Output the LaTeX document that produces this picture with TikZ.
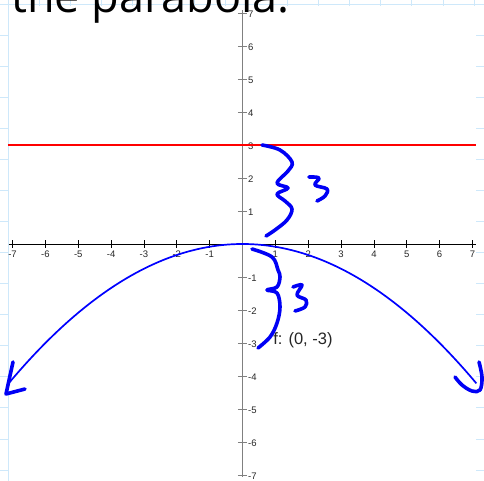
\documentclass[tikz,border=0pt]{standalone}
\usepackage{fontspec}
\setmainfont{Liberation Sans}
\newfontfamily\titlefont{Open Sans}
\usetikzlibrary{positioning}
\definecolor{paper}{RGB}{206,232,250}
\definecolor{ink}{RGB}{0,0,245}
\definecolor{ticktext}{RGB}{40,40,40}

\begin{document}
\begin{tikzpicture}[
      x=1pt, y=-1pt,
      pen/.style={ink, line width=3.6pt, line cap=round, line join=round},
      ticklbl/.style={font=\fontsize{9.5}{10}\selectfont, text=ticktext, inner sep=0.5pt},
      rule/.style={paper, line width=0.9pt}]
    \useasboundingbox (0,0) rectangle (484,481);
    \clip (0,0) rectangle (484,481);
    % notebook paper behind the plot
    \foreach \k in {0,...,15} \draw[rule] ({8+31.07*\k},0) -- ({8+31.07*\k},481);
    \foreach \k in {0,...,15} \draw[rule] (0,{4+31.07*\k}) -- (484,{4+31.07*\k});
    \fill[white] (8.5,6.5) rectangle (476,490);
    \node[anchor=base west, inner sep=0, font=\titlefont\fontsize{45}{45}\selectfont] (title) at (11,12.5) {the parabola:};
    % plot in axis units
    \begin{scope}[shift={(242.5,244)}, x=32.85pt, y=33pt]
      \draw[gray, line width=1.8pt] (0,7.09) -- (0,-7.07);
      \draw[black, line width=0.8pt] (-7.12,0) -- (7.1,0);
      \foreach \v in {-7,...,-1,1,2,...,7} {
        \draw[gray, line width=0.9pt] (-0.14,\v) -- (0.14,\v);
        \node[ticklbl, anchor=west] (yl\v) at (0.15,\v-0.03) {\v};
      }
      \foreach \u in {-7,...,-1,1,2,...,7} {
        \draw[black, line width=0.8pt] (\u,0.12) -- (\u,-0.12);
        \node[ticklbl, anchor=north] (xl\u) at (\u,-0.2) {\u};
      }
      \draw[red, line width=1.5pt] (-7.14,3) -- (7.11,3);
      \draw[blue, line width=1.7pt] plot[domain=-7.15:7.12, samples=80, smooth] (\x,{-\x*\x/12});
      \node[anchor=base west, inner sep=0, text=black!85, font=\fontsize{16.5}{17}\selectfont] (focus) at (0.93,-3.06) {f: (0, -3)};
    \end{scope}
    % hand-drawn arrowheads
    \draw[pen] (13,362) -- (6,394) -- (25,389);
    \draw[pen] plot[smooth, tension=0.6] coordinates {(455,377) (462,385) (472,391) (480,390) (482,377) (479,362)};
    % braces and distances
    \draw[pen] plot[smooth, tension=0.6] coordinates {(262,145) (280,150) (292,162) (288,171) (277,183) (288,188) (277,194) (285,201) (292,209) (287,220) (275,230) (266,236)};
    \draw[pen] plot[smooth, tension=0.6] coordinates {(309,177) (319,178) (315,185) (327,189) (325,196) (317,201)};
    \draw[pen] plot[smooth, tension=0.6] coordinates {(252,249) (272,257) (278,270) (280,277) (277,287) (267,290) (277,293) (280,307) (277,323) (270,337) (258,348)};
    \draw[pen] plot[smooth, tension=0.6] coordinates {(293,287) (302,285) (297,295) (306,300) (305,307) (295,311)};
\end{tikzpicture}
\end{document}
